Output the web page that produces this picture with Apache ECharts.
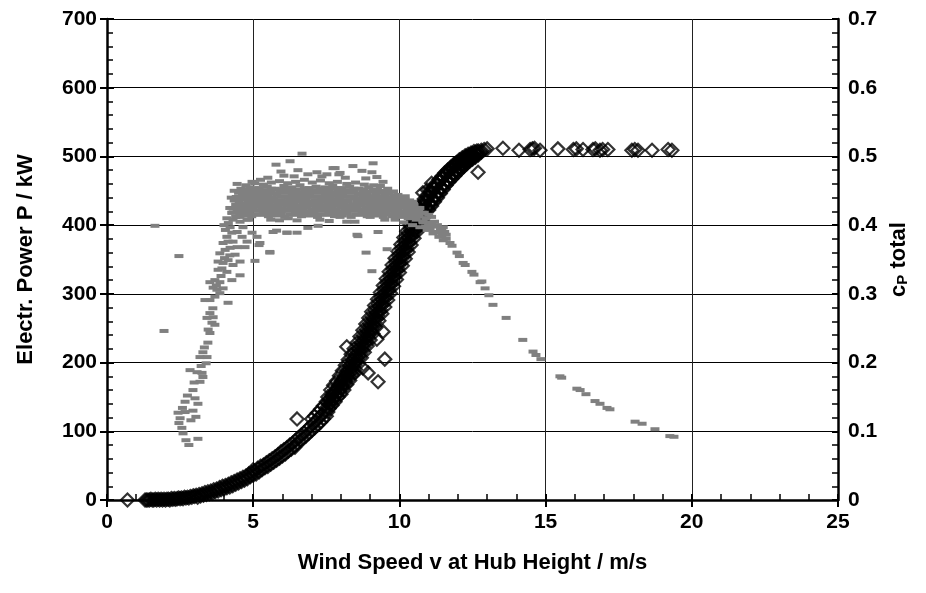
<!DOCTYPE html>
<html>
<head>
<meta charset="utf-8">
<script src="https://cdn.jsdelivr.net/npm/echarts@6/dist/echarts.min.js"></script>
<style>
html,body{margin:0;padding:0;background:#fff;}
#chart{width:926px;height:593px;}
</style>
</head>
<body>
<div id="chart"></div>
<script>
// Wind speed axis / power axis / cp axis ranges
const xRange = [0, 25, 5];
const powerRange = [0, 700, 100];
const cpRange = [0, 0.7, 0.1];

// Electrical power P (kW) vs wind speed v (m/s) – open diamonds
const powerData = [
[0.7,0],[1.3,0],[1.35,0],[1.4,0],[1.45,0],[1.5,1],[1.55,0],[1.6,0],[1.65,1],[1.7,0],[1.75,1],[1.8,0],[1.85,1],[1.9,0],[1.95,1],[2.0,0],[2.05,1],[2.1,1],[2.15,0],[2.2,2],[2.25,1],[2.3,2],[2.35,1],[2.4,2],[2.45,3],[2.5,2],[2.55,3],[2.6,2],[2.65,4],[2.7,3],[2.75,4],[2.8,3],[2.85,5],[2.9,4],[2.95,6],[3.0,5],
[3.05,7],[3.1,4],[3.15,8],[3.2,6],[3.25,9],[3.3,7],[3.35,11],[3.4,8],[3.45,12],[3.5,9],[3.55,13],[3.6,10],[3.65,15],[3.7,12],[3.75,16],[3.8,13],[3.85,18],[3.9,15],[3.95,20],[4.0,16],[4.05,21],[4.1,18],[4.15,23],[4.2,19],[4.25,25],[4.3,21],[4.35,27],[4.4,23],[4.45,29],[4.5,25],[4.55,31],[4.6,27],[4.65,33],[4.7,29],[4.75,35],[4.8,31],[4.85,38],[4.9,34],[4.95,40],[5.0,36],[5.0,44],
[5.05,42],[5.1,38],[5.15,46],[5.2,41],[5.25,49],[5.3,44],[5.35,51],[5.4,47],[5.45,54],[5.5,49],[5.55,57],[5.6,52],[5.65,60],[5.7,55],[5.75,63],[5.8,58],[5.85,66],[5.9,61],[5.95,70],[6.0,64],[6.05,73],[6.1,67],[6.15,76],[6.2,71],[6.25,80],[6.3,74],[6.35,83],[6.4,78],[6.45,87],[6.5,82],[6.55,91],[6.6,86],[6.65,95],[6.7,89],[6.75,98],[6.8,93],[6.85,103],[6.9,97],[6.95,107],[7.0,101],[7.0,118],[7.05,111],[7.1,105],[7.1,122],[7.15,115],[7.2,109],[7.2,127],[7.25,120],[7.3,113],[7.3,132],[7.35,124],[7.4,118],[7.4,137],[7.45,129],[7.5,122],[7.5,143],
[7.55,128],[7.55,150],[7.6,133],[7.6,146],[7.65,141],[7.65,160],[7.7,138],[7.7,153],[7.75,147],[7.75,167],[7.8,143],[7.8,160],[7.85,152],[7.85,173],[7.9,150],[7.9,166],[7.95,158],[7.95,181],[8.0,154],[8.0,172],
[8.05,165],[8.05,188],[8.1,160],[8.1,179],[8.15,172],[8.15,196],[8.2,168],[8.2,186],[8.25,180],[8.25,204],[8.3,174],[8.3,194],[8.35,187],[8.35,212],[8.4,182],[8.4,203],[8.45,196],[8.45,220],[8.5,190],[8.5,210],
[8.55,204],[8.55,229],[8.6,198],[8.6,219],[8.65,212],[8.65,238],[8.7,207],[8.7,228],[8.75,222],[8.75,247],[8.8,215],[8.8,236],[8.85,230],[8.85,256],[8.9,224],[8.9,245],[8.95,240],[8.95,265],[9.0,233],[9.0,254],
[9.05,249],[9.05,274],[9.1,242],[9.1,263],[9.15,258],[9.15,283],[9.2,251],[9.2,272],[9.25,268],[9.25,292],[9.3,261],[9.3,282],[9.35,277],[9.35,302],[9.4,271],[9.4,292],[9.45,287],[9.45,312],[9.5,281],[9.5,302],
[9.55,297],[9.55,322],[9.6,291],[9.6,312],[9.65,307],[9.65,332],[9.7,301],[9.7,322],[9.75,317],[9.75,342],[9.8,311],[9.8,332],[9.85,327],[9.85,352],[9.9,321],[9.9,342],[9.95,337],[9.95,362],[10.0,331],[10.0,352],
[10.05,347],[10.05,372],[10.1,341],[10.1,362],[10.15,357],[10.15,382],[10.2,351],[10.2,372],[10.25,367],[10.25,391],[10.3,361],[10.3,382],[10.35,376],[10.35,400],[10.4,371],[10.4,392],[10.45,386],[10.45,409],[10.5,381],[10.5,402],
[10.55,394],[10.55,416],[10.6,390],[10.6,410],[10.65,402],[10.65,423],[10.7,398],[10.7,418],[10.75,410],[10.75,431],[10.8,406],[10.8,426],[10.85,418],[10.85,438],[10.9,414],[10.9,434],[10.95,425],[10.95,444],[11.0,422],[11.0,441],
[11.05,431],[11.05,450],[11.1,428],[11.1,447],[11.15,437],[11.15,455],[11.2,434],[11.2,453],[11.25,443],[11.25,461],[11.3,440],[11.3,459],[11.35,449],[11.35,466],[11.4,446],[11.4,465],[11.45,455],[11.45,471],[11.5,452],[11.5,470],
[11.55,460],[11.55,476],[11.6,458],[11.6,475],[11.65,465],[11.65,480],[11.7,463],[11.7,479],[11.75,469],[11.75,484],[11.8,468],[11.8,483],[11.85,474],[11.85,488],[11.9,472],[11.9,487],[11.95,478],[11.95,491],[12.0,477],[12.0,491],
[12.05,482],[12.05,495],[12.1,481],[12.1,494],[12.15,486],[12.15,498],[12.2,485],[12.2,497],[12.25,490],[12.25,501],[12.3,489],[12.3,500],[12.35,494],[12.35,503],[12.4,493],[12.4,502],[12.45,497],[12.45,505],[12.5,496],[12.5,504],
[12.55,500],[12.55,507],[12.6,499],[12.6,506],[12.65,503],[12.65,508],[12.7,502],[12.7,508],[12.8,506],[12.8,509],
[7.52,135],[7.58,142],[7.62,139],[7.68,151],[7.72,146],[7.78,157],[7.82,152],[7.88,162],[7.92,158],[7.98,170],
[8.02,163],[8.08,177],[8.12,170],[8.18,186],[8.22,178],[8.28,195],[8.32,186],[8.38,203],[8.42,194],[8.48,211],
[8.52,202],[8.58,220],[8.62,210],[8.68,229],[8.72,219],[8.78,239],[8.82,228],[8.88,248],[8.92,237],[8.98,257],
[9.02,246],[9.08,266],[9.12,255],[9.18,276],[9.22,264],[9.28,286],[9.32,274],[9.38,296],[9.42,284],[9.48,306],
[9.52,294],[9.58,316],[9.62,304],[9.68,326],[9.72,314],[9.78,336],[9.82,324],[9.88,346],[9.92,334],[9.98,356],
[10.02,344],[10.08,366],[10.12,354],[10.18,376],[10.22,364],[10.28,385],[10.32,374],[10.38,395],[10.42,384],[10.48,404],
[10.52,392],[10.58,412],[10.62,400],[10.68,419],[10.72,408],[10.78,427],[10.82,416],[10.88,434],[10.92,423],[10.98,441],
[11.02,430],[11.08,447],[11.12,436],[11.18,453],[11.22,442],[11.28,459],[11.32,448],[11.38,464],[11.42,454],[11.48,469],
[11.52,460],[11.58,473],[11.62,465],[11.68,477],[11.72,470],[11.78,481],[11.82,475],[11.88,485],[11.92,479],[11.98,488],
[12.02,484],[12.08,491],[12.12,488],[12.18,494],[12.22,492],[12.28,497],[12.32,495],[12.38,500],[12.42,498],[12.48,502],
[6.43,77],[6.5,118],[8.2,223],[8.48,185],[8.75,192],[8.93,185],[9.27,172],[9.5,205],[9.23,234],[9.44,245],[10.8,447],[10.95,451],[11.1,461],[12.69,477],
[12.9,510],[13.0,511],[13.54,512],[14.09,509],[14.47,510],[14.55,511],[14.62,512],[14.81,509],[15.42,511],[15.95,510],[16.05,511],[16.28,510],[16.62,510],[16.7,511],[16.86,509],[16.95,510],[17.13,510],[17.95,509],[18.05,510],[18.16,509],[18.64,509],[19.19,510],[19.32,509]
];

// Total power coefficient cP vs wind speed v – grey dashes
const cpData = [
[1.64,0.399],[1.95,0.246],[2.46,0.355],
[2.43,0.127],[2.5,0.119],[2.46,0.112],[2.56,0.105],[2.6,0.097],[2.7,0.087],[2.8,0.08],[3.11,0.089],[2.87,0.116],[3.04,0.121],[2.67,0.128],[2.67,0.143],[2.94,0.13],[3.11,0.14],[3.01,0.148],[2.94,0.16],
[2.84,0.189],[3.08,0.186],[3.25,0.185],[3.18,0.172],[3.28,0.179],[3.18,0.208],[3.28,0.215],[3.42,0.208],[3.39,0.199],[3.45,0.229],[3.52,0.243],[3.59,0.258],[3.42,0.265],[3.63,0.266],[3.69,0.255],[3.52,0.272],
[3.35,0.291],[3.52,0.291],[3.69,0.296],[3.76,0.306],[3.86,0.301],[3.63,0.309],[4.14,0.287],[3.52,0.317],[3.69,0.32],[3.86,0.317],[3.97,0.308],[3.8,0.335],[3.93,0.337],[4.1,0.332],[4.27,0.32],[4.55,0.327],
[3.8,0.347],[3.97,0.345],[4.14,0.349],[4.31,0.342],[3.86,0.359],[4.04,0.364],[4.21,0.367],[4.38,0.357],[4.55,0.347],[3.97,0.374],[4.14,0.376],[4.31,0.376],[4.45,0.368],[4.1,0.383],[4.27,0.389],[4.45,0.39],[4.62,0.383],[4.79,0.376],
[3.62,0.279],[3.74,0.312],[3.9,0.326],[4.02,0.352],[4.2,0.356],[3.46,0.248],[3.33,0.222],[3.22,0.195],[2.98,0.171],[2.75,0.152],[2.58,0.134],
[5.06,0.348],[5.23,0.374],[5.57,0.361],[4.96,0.389],[5.13,0.383],[5.68,0.39],[6.16,0.389],[6.5,0.389],[4.21,0.397],[4.31,0.408],[4.65,0.397],[4.79,0.408],[4.55,0.412],[4.27,0.418],[4.45,0.425],
[4.0,0.4],[4.1,0.41],[4.2,0.425],[4.25,0.44],[4.35,0.45],[4.45,0.46],[4.05,0.393],[4.15,0.403],
[6.67,0.504],[6.26,0.493],[5.78,0.488],[5.5,0.469],[4.96,0.463],[7.18,0.477],[7.73,0.483],[8.41,0.486],[7.93,0.474],[7.52,0.474],[6.53,0.48],[6.87,0.474],[9.1,0.49],[8.72,0.479],[9.06,0.477],[7.97,0.476],[7.8,0.483],[9.23,0.47],[9.44,0.463],[9.6,0.453],[4.58,0.453],[4.65,0.447],[6.05,0.472],[5.95,0.478],[7.35,0.471],[8.15,0.469],[8.85,0.468],[6.4,0.471],[5.25,0.466],
[4.75,0.458],[5.05,0.461],[5.35,0.459],[5.62,0.462],[5.9,0.464],[6.18,0.461],[6.45,0.463],[6.75,0.466],[7.02,0.462],[7.3,0.465],[7.6,0.461],[7.88,0.463],[8.2,0.46],[8.5,0.462],[8.8,0.459],[9.12,0.458],[9.35,0.457],
[4.62,0.452],[4.9,0.455],[5.2,0.454],[5.48,0.456],[5.75,0.453],[6.05,0.457],[6.32,0.455],[6.6,0.458],[6.9,0.454],[7.15,0.456],[7.45,0.455],[7.72,0.457],[8.02,0.454],[8.3,0.456],[8.62,0.453],[8.95,0.455],[9.25,0.452],[9.55,0.45],[9.8,0.449],
[4.76,0.452],[5.04,0.453],[5.34,0.451],[5.62,0.453],[5.9,0.452],[6.18,0.454],[6.46,0.452],[6.75,0.453],[7.02,0.451],[7.3,0.453],[7.59,0.452],[7.87,0.453],[8.16,0.451],[8.45,0.453],[8.78,0.452],[9.1,0.451],[9.4,0.449],
[4.5,0.447],[4.78,0.449],[5.08,0.451],[5.35,0.448],[5.62,0.45],[5.92,0.449],[6.2,0.451],[6.48,0.448],[6.78,0.45],[7.05,0.449],[7.33,0.451],[7.6,0.448],[7.9,0.45],[8.18,0.449],[8.45,0.451],[8.75,0.448],[9.05,0.449],[9.35,0.447],[9.65,0.446],[9.95,0.444],[10.2,0.442],
[4.64,0.446],[4.92,0.447],[5.21,0.446],[5.49,0.447],[5.77,0.446],[6.06,0.447],[6.34,0.446],[6.63,0.447],[6.92,0.446],[7.19,0.447],[7.47,0.446],[7.75,0.447],[8.04,0.446],[8.31,0.447],[8.6,0.446],[8.9,0.447],[9.2,0.445],[9.5,0.444],[9.8,0.443],[10.1,0.441],
[4.42,0.441],[4.68,0.444],[4.95,0.443],[5.22,0.445],[5.5,0.443],[5.8,0.444],[6.08,0.442],[6.35,0.445],[6.62,0.443],[6.92,0.444],[7.2,0.442],[7.48,0.445],[7.78,0.443],[8.05,0.444],[8.32,0.442],[8.6,0.445],[8.9,0.443],[9.18,0.442],[9.48,0.441],[9.75,0.44],[10.05,0.439],[10.35,0.436],
[4.55,0.44],[4.82,0.441],[5.1,0.44],[5.37,0.441],[5.65,0.44],[5.94,0.441],[6.22,0.44],[6.5,0.441],[6.78,0.44],[7.06,0.441],[7.34,0.44],[7.62,0.441],[7.92,0.44],[8.18,0.441],[8.46,0.44],[8.75,0.441],[9.04,0.44],[9.33,0.44],[9.62,0.439],[9.9,0.438],[10.2,0.437],[10.45,0.434],
[4.35,0.436],[4.58,0.438],[4.85,0.437],[5.12,0.439],[5.4,0.437],[5.68,0.438],[5.95,0.436],[6.25,0.439],[6.52,0.437],[6.8,0.438],[7.1,0.436],[7.38,0.439],[7.65,0.437],[7.95,0.438],[8.22,0.436],[8.5,0.439],[8.8,0.437],[9.08,0.438],[9.35,0.436],[9.62,0.437],[9.92,0.435],[10.2,0.434],[10.48,0.431],
[4.52,0.434],[4.84,0.435],[5.13,0.434],[5.42,0.435],[5.7,0.434],[5.99,0.435],[6.26,0.434],[6.55,0.435],[6.84,0.434],[7.12,0.435],[7.4,0.434],[7.69,0.435],[7.96,0.434],[8.25,0.435],[8.54,0.434],[8.82,0.435],[9.1,0.434],[9.36,0.434],[9.65,0.433],[9.95,0.433],[10.22,0.431],[10.5,0.429],
[4.4,0.43],[4.7,0.432],[4.98,0.431],[5.28,0.433],[5.55,0.431],[5.85,0.432],[6.12,0.43],[6.4,0.433],[6.7,0.431],[6.98,0.432],[7.25,0.43],[7.55,0.433],[7.82,0.431],[8.1,0.432],[8.4,0.43],[8.68,0.433],[8.95,0.431],[9.22,0.432],[9.5,0.43],[9.8,0.431],[10.08,0.429],[10.35,0.428],[10.62,0.425],
[4.46,0.428],[4.74,0.429],[5.02,0.428],[5.3,0.429],[5.59,0.428],[5.86,0.429],[6.15,0.428],[6.44,0.429],[6.72,0.428],[7.0,0.429],[7.28,0.428],[7.57,0.429],[7.85,0.428],[8.14,0.429],[8.42,0.428],[8.7,0.429],[8.99,0.428],[9.26,0.428],[9.54,0.428],[9.82,0.427],[10.1,0.426],[10.4,0.425],[10.66,0.422],
[4.32,0.424],[4.6,0.426],[4.88,0.425],[5.15,0.427],[5.45,0.425],[5.72,0.426],[6.0,0.424],[6.3,0.427],[6.58,0.425],[6.85,0.426],[7.15,0.424],[7.42,0.427],[7.7,0.425],[8.0,0.426],[8.28,0.424],[8.55,0.427],[8.85,0.425],[9.12,0.426],[9.4,0.424],[9.68,0.425],[9.95,0.424],[10.25,0.423],[10.52,0.421],[10.78,0.418],
[4.45,0.422],[4.73,0.423],[5.0,0.422],[5.29,0.423],[5.58,0.422],[5.86,0.423],[6.14,0.422],[6.43,0.423],[6.71,0.422],[7.0,0.423],[7.28,0.422],[7.56,0.423],[7.84,0.422],[8.13,0.423],[8.41,0.422],[8.7,0.423],[8.98,0.422],[9.26,0.422],[9.55,0.422],[9.82,0.421],[10.1,0.42],[10.38,0.419],[10.62,0.417],
[4.28,0.418],[4.52,0.42],[4.8,0.419],[5.05,0.421],[5.35,0.419],[5.62,0.42],[5.9,0.418],[6.18,0.421],[6.45,0.419],[6.75,0.42],[7.02,0.418],[7.3,0.421],[7.58,0.419],[7.88,0.42],[8.15,0.418],[8.45,0.421],[8.72,0.419],[9.0,0.42],[9.28,0.418],[9.55,0.419],[9.85,0.418],[10.12,0.417],[10.4,0.416],[10.68,0.413],[10.9,0.41],
[4.55,0.416],[4.85,0.417],[5.12,0.416],[5.4,0.417],[5.68,0.416],[5.96,0.417],[6.25,0.416],[6.52,0.417],[6.8,0.416],[7.08,0.417],[7.36,0.416],[7.64,0.417],[7.92,0.416],[8.2,0.417],[8.5,0.416],[8.78,0.417],[9.05,0.416],[9.32,0.416],[9.6,0.416],[9.9,0.415],[10.18,0.414],[10.45,0.412],
[4.4,0.412],[4.7,0.414],[4.95,0.413],[5.25,0.415],[5.52,0.413],[5.8,0.414],[6.08,0.412],[6.38,0.415],[6.65,0.413],[6.92,0.414],[7.2,0.412],[7.5,0.415],[7.78,0.413],[8.05,0.414],[8.35,0.412],[8.62,0.415],[8.9,0.413],[9.18,0.414],[9.45,0.412],[9.75,0.413],[10.02,0.412],[10.3,0.41],[10.58,0.408],[10.82,0.404],[11.0,0.4],
[4.55,0.405],[4.85,0.408],[5.6,0.408],[5.9,0.407],[6.2,0.41],[6.5,0.407],[7.28,0.408],[7.6,0.406],[7.97,0.412],[8.2,0.405],[8.48,0.405],[9.0,0.412],[9.5,0.408],[9.85,0.408],[10.15,0.404],[10.45,0.4],[10.7,0.397],[10.95,0.393],[11.2,0.39],
[5.8,0.392],[6.15,0.389],[6.87,0.396],[5.57,0.36],[5.2,0.371],[4.72,0.368],[7.22,0.399],[8.58,0.384],[9.27,0.39],[8.86,0.36],[9.58,0.365],[9.06,0.333],[8.55,0.386],
[10.7,0.425],[10.85,0.418],[11.0,0.415],[11.1,0.412],[11.2,0.405],[11.3,0.4],[11.45,0.392],[11.6,0.386],[11.5,0.397],
[10.8,0.405],[10.9,0.398],[11.05,0.395],[11.1,0.404],[11.15,0.388],[11.2,0.398],[11.3,0.39],[11.35,0.383],[11.4,0.395],[11.45,0.385],[11.5,0.378],[11.55,0.39],[11.6,0.38],[11.73,0.374],[11.8,0.37],[11.97,0.36],[12.05,0.355],[12.18,0.345],[12.25,0.342],[12.48,0.332],[12.55,0.328],[12.76,0.317],
[12.82,0.318],[12.93,0.308],[13.06,0.298],[13.2,0.284],[13.65,0.265],[14.22,0.233],[14.57,0.216],[14.67,0.211],[14.84,0.205],[15.49,0.18],[15.55,0.178],[16.07,0.162],[16.18,0.16],[16.38,0.154],[16.69,0.144],[16.86,0.14],[17.1,0.134],[17.2,0.132],[18.06,0.114],[18.3,0.111],[18.74,0.103],[19.25,0.093],[19.39,0.092]
];

const FONT = "'Liberation Sans', Arial, sans-serif";
const labelStyle = {color:'#000', fontFamily:FONT, fontWeight:'bold', fontSize:21};
const chart = echarts.init(document.getElementById('chart'), null, {renderer:'canvas'});

function outerTicks(extra){
  return Object.assign({
    type:'value', axisLine:{show:false}, axisLabel:{show:false}, splitLine:{show:false},
    axisTick:{show:true, inside:false, length:7, lineStyle:{color:'#000', width:2}}
  }, extra);
}

chart.setOption({
  animation:false,
  backgroundColor:'#fff',
  grid:{left:107, right:88, top:19, bottom:93, containLabel:false},
  xAxis:[{
    type:'value', min:xRange[0], max:xRange[1], interval:xRange[2], position:'bottom',
    name:'Wind Speed v at Hub Height / m/s', nameLocation:'middle', nameGap:52,
    nameTextStyle:{color:'#000', fontFamily:FONT, fontWeight:'bold', fontSize:22},
    axisLine:{show:true, onZero:false, lineStyle:{color:'#000', width:2.5}},
    axisTick:{show:true, inside:true, length:6, lineStyle:{color:'#000', width:2}},
    minorTick:{show:true, splitNumber:5, length:6, lineStyle:{color:'#000', width:1.5}},
    axisLabel:Object.assign({margin:12}, labelStyle),
    splitLine:{show:true, lineStyle:{color:'#222', width:1}}
  }, outerTicks({min:xRange[0], max:xRange[1], interval:xRange[2], position:'bottom'})],
  yAxis:[{
    type:'value', min:powerRange[0], max:powerRange[1], interval:powerRange[2], position:'left',
    name:'Electr. Power P / kW', nameLocation:'middle', nameGap:70, nameRotate:90,
    nameTextStyle:{color:'#000', fontFamily:FONT, fontWeight:'bold', fontSize:22},
    axisLine:{show:true, onZero:false, lineStyle:{color:'#000', width:2.5}},
    axisTick:{show:true, inside:true, length:6, lineStyle:{color:'#000', width:2}},
    minorTick:{show:true, splitNumber:5, length:6, lineStyle:{color:'#000', width:1.5}},
    axisLabel:Object.assign({margin:10}, labelStyle),
    splitLine:{show:true, lineStyle:{color:'#000', width:1}}
  },{
    type:'value', min:cpRange[0], max:cpRange[1], interval:cpRange[2], position:'right',
    name:'{c|c}{p|P}{t| total}', nameLocation:'middle', nameGap:42, nameRotate:90,
    nameTextStyle:{color:'#000', fontFamily:FONT, fontWeight:'bold', fontSize:22,
      rich:{c:{fontFamily:FONT, fontWeight:'bold', fontSize:22}, p:{fontFamily:FONT, fontWeight:'bold', fontSize:15, verticalAlign:'bottom'}, t:{fontFamily:FONT, fontWeight:'bold', fontSize:22}}},
    axisLine:{show:true, onZero:false, lineStyle:{color:'#000', width:2.5}},
    axisTick:{show:true, inside:true, length:6, lineStyle:{color:'#000', width:2}},
    minorTick:{show:true, splitNumber:5, length:6, lineStyle:{color:'#000', width:1.5}},
    axisLabel:Object.assign({margin:10}, labelStyle),
    splitLine:{show:false}
  },
  outerTicks({min:powerRange[0], max:powerRange[1], interval:powerRange[2], position:'left'}),
  outerTicks({min:cpRange[0], max:cpRange[1], interval:cpRange[2], position:'right'})
  ],
  series:[{
    name:'P', type:'scatter', xAxisIndex:0, yAxisIndex:0, data:powerData,
    symbol:'diamond', symbolSize:13, z:2,
    itemStyle:{color:'rgba(0,0,0,0)', borderColor:'#000', borderWidth:2.2}
  },{
    name:'cP total', type:'scatter', xAxisIndex:0, yAxisIndex:1, data:cpData,
    symbol:'rect', symbolSize:[9,4], z:3,
    itemStyle:{color:'#808080', opacity:1}
  }]
});
</script>
</body>
</html>
